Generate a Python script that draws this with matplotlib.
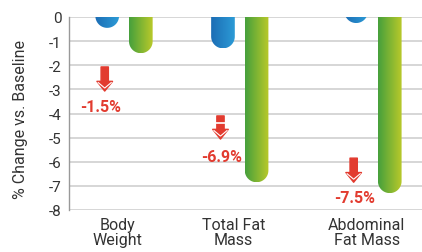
import numpy as np
import matplotlib
matplotlib.use("Agg")
import matplotlib.pyplot as plt
from matplotlib.path import Path
from matplotlib.patches import PathPatch
from matplotlib.colors import LinearSegmentedColormap

plt.rcParams['font.family'] = ['Roboto', 'DejaVu Sans']

# data
categories = ["Body\nWeight", "Total Fat\nMass", "Abdominal\nFat Mass"]
blue_vals = [-0.45, -1.3, -0.25]
green_vals = [-1.5, -6.85, -7.3]
diff_labels = ["-1.5%", "-6.9%", "-7.5%"]
yticks = [0, -1, -2, -3, -4, -5, -6, -7, -8]

# layout
group_x = [0.0, 0.93, 2.0]
off = 0.135
bar_w = 0.19
arrow_top = [-2.07, -4.1, -5.85]
arrow_tip = [-3.07, -5.06, -6.85]
label_y = [-3.69, -5.77, -7.47]
label_dx = [-0.05, -0.01, -0.015]

W, H, dpi = 422, 253, 100
fig = plt.figure(figsize=(W / dpi, H / dpi), dpi=dpi)
ax_l, ax_r, ax_t, ax_b = 69, 422, 18, 211
ax = fig.add_axes([ax_l / W, 1 - ax_b / H, (ax_r - ax_l) / W, (ax_b - ax_t) / H])
xlim = (-0.442, 2.394)
ylim = (-8, 0)
ax.set_xlim(xlim)
ax.set_ylim(ylim)

px_x = (ax_r - ax_l) / (xlim[1] - xlim[0])
px_y = (ax_b - ax_t) / (ylim[1] - ylim[0])

blue_cmap = LinearSegmentedColormap.from_list("b", ["#1c6db5", "#2c9bd6"])
green_cmap = LinearSegmentedColormap.from_list("g", ["#46a03c", "#b9c92a"])
grad = np.linspace(0, 1, 64).reshape(1, -1)


def round_bar(xc, val, cmap):
    x0, x1 = xc - bar_w / 2, xc + bar_w / 2
    rx = bar_w / 2
    ry = rx * px_x / px_y
    cy = val + ry
    t = np.linspace(np.pi, 2 * np.pi, 40)
    arc = np.column_stack([xc + rx * np.cos(t), cy + ry * np.sin(t)])
    top = max(0.5, cy + 0.1)
    verts = [(x0, top), (x0, cy)] + [tuple(p) for p in arc] + [(x1, cy), (x1, top), (x0, top)]
    codes = [Path.MOVETO] + [Path.LINETO] * (len(verts) - 2) + [Path.CLOSEPOLY]
    patch = PathPatch(Path(verts, codes), facecolor="none", edgecolor="none")
    ax.add_patch(patch)
    im = ax.imshow(grad, cmap=cmap, extent=[x0, x1, val, top], aspect="auto",
                   interpolation="bicubic", zorder=3)
    im.set_clip_path(patch)


for i, g in enumerate(group_x):
    round_bar(g - off, blue_vals[i], blue_cmap)
    round_bar(g + off, green_vals[i], green_cmap)

red = "#e23b2f"
for i, g in enumerate(group_x):
    ax_x = g - off - 0.02
    ax.annotate("", xy=(ax_x, arrow_tip[i]), xytext=(ax_x, arrow_top[i]),
                arrowprops=dict(arrowstyle="simple,head_width=1.6,head_length=1.0,tail_width=0.75",
                                color=red, mutation_scale=7, shrinkA=0, shrinkB=0), zorder=4)
    # white chevron inside the arrow head
    hx = 6.5 / px_x
    ax.plot([ax_x - hx, ax_x, ax_x + hx],
            [arrow_tip[i] + 8.5 / px_y, arrow_tip[i] + 3 / px_y, arrow_tip[i] + 8.5 / px_y],
            color="white", lw=0.8, zorder=5, solid_joinstyle="miter")
    if i == 1:
        ax.plot([ax_x - 5 / px_x, ax_x + 5 / px_x], [arrow_top[i] - 0.3, arrow_top[i] - 0.3],
                color="white", lw=1.2, zorder=5)
    ax.text(g - off + label_dx[i], label_y[i], diff_labels[i], color=red, fontsize=11.5,
            fontweight="bold", ha="center", va="center", zorder=4)

ax.set_xlim(xlim)
ax.set_ylim(ylim)
ax.set_yticks(yticks)
ax.set_yticklabels([str(v) for v in yticks], fontsize=11, color="#333333")
ax.set_xticks([g - 0.05 for g in group_x])
ax.set_xticklabels(categories, fontsize=11.5, color="#333333", linespacing=1.0)
ax.tick_params(length=0)
ax.tick_params(axis="y", pad=5.5)
ax.tick_params(axis="x", pad=5)
ax.grid(axis="y", color="#cfcfcf", linewidth=1.2, zorder=0)
ax.set_axisbelow(True)
for s in ["top", "right", "bottom"]:
    ax.spines[s].set_visible(False)
ax.spines["left"].set_color("#999999")
ax.spines["left"].set_linewidth(1.0)
fig.text(21 / W, 1 - 120 / H, "% Change vs. Baseline", fontsize=11.5, color="#333333",
         rotation=90, ha="center", va="center")

fig.savefig("out.png", dpi=dpi)
